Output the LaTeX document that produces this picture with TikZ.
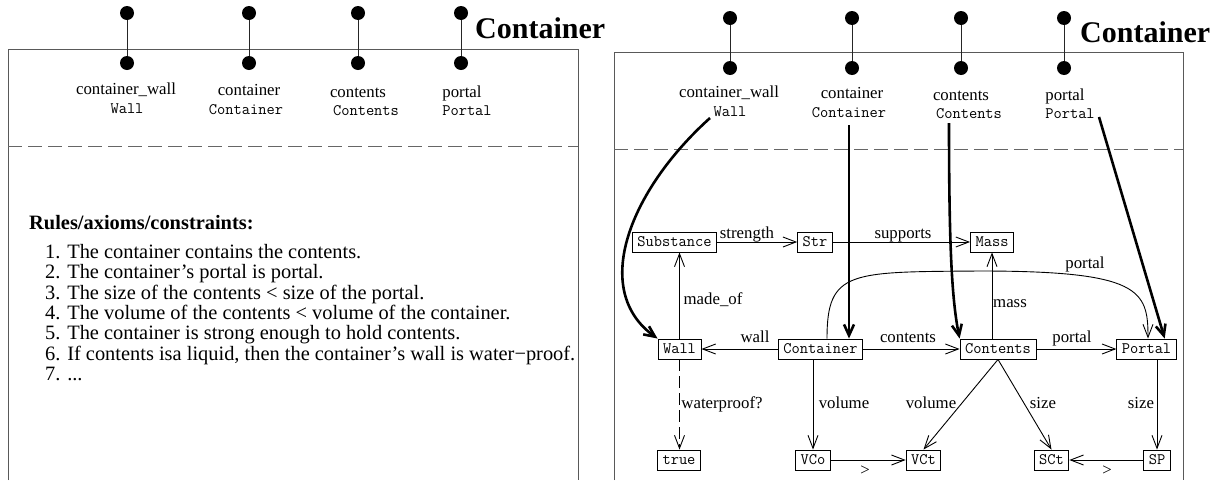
\documentclass[tikz,border=0pt]{standalone}
\usepackage{fontspec}
\setmainfont{Liberation Serif}
\usetikzlibrary{arrows.meta}
\tikzset{
  panel/.style={draw=black!65, line width=1pt},
  sepline/.style={draw=black!60, line width=1pt, dash pattern=on 14pt off 6pt},
  dotnode/.style={circle, fill=black, draw=none, minimum size=14pt, inner sep=0pt},
  dotline/.style={draw=black!85, line width=1pt},
  box/.style={draw, line width=0.9pt, font=\fontsize{16}{16}\selectfont\ttfamily,
              inner xsep=5pt, inner ysep=0pt, text height=11pt, text depth=2pt, minimum height=20pt},
  lab/.style={font=\fontsize{16.8}{17}\selectfont, inner sep=0pt, text height=11.4pt, text depth=0pt},
  mlab/.style={font=\fontsize{16}{16}\selectfont\ttfamily, inner sep=0pt, text height=9.8pt, text depth=0pt},
  edge/.style={draw, line width=0.9pt, -{Straight Barb[length=13pt,width=10pt]}},
  dedge/.style={edge, dash pattern=on 12pt off 5pt},
  bigarrow/.style={draw, line width=2.6pt, -{Straight Barb[length=11pt,width=10pt]}},
  ttl/.style={font=\fontsize{30}{30}\selectfont\bfseries, inner sep=0pt, anchor=base west},
  rulehead/.style={font=\fontsize{20.4}{20}\selectfont\bfseries, inner sep=0pt, anchor=base west},
  ruleitem/.style={font=\fontsize{20.4}{20}\selectfont, inner sep=0pt, anchor=base west}
}
\begin{document}
\begin{tikzpicture}[x=1pt,y=-1pt]
\useasboundingbox (0,0) rectangle (1215,480);

% ---------------- left panel ----------------
\draw[panel] (8,480) -- (8,49) -- (578,49) -- (578,480);
\draw[sepline] (8,146) -- (578,146);
\node[ttl] (ltitle) at (475,38) {Container};

\node[dotnode] (ld1t) at (127,13) {}; \node[dotnode] (ld1b) at (127,63) {};
\node[dotnode] (ld2t) at (249,13) {}; \node[dotnode] (ld2b) at (249,63) {};
\node[dotnode] (ld3t) at (358,13) {}; \node[dotnode] (ld3b) at (358,63) {};
\node[dotnode] (ld4t) at (461,13) {}; \node[dotnode] (ld4b) at (461,63) {};
\draw[dotline] (ld1t) -- (ld1b);
\draw[dotline] (ld2t) -- (ld2b);
\draw[dotline] (ld3t) -- (ld3b);
\draw[dotline] (ld4t) -- (ld4b);

\node[lab]  (lcw)  at (126,89)  {container\_wall};
\node[mlab] (lcwT) at (127,109) {Wall};
\node[lab]  (lc)   at (249,90)  {container};
\node[mlab] (lcT)  at (246,110) {Container};
\node[lab]  (lct)  at (358,92)  {contents};
\node[mlab] (lctT) at (366,111) {Contents};
\node[lab]  (lp)   at (462,92)  {portal};
\node[mlab] (lpT)  at (467,111) {Portal};

\node[rulehead] (rh) at (29,229.5) {Rules/axioms/constraints:};
\node[ruleitem] (r1) at (45,258.5) {1. The container contains the contents.};
\node[ruleitem] (r2) at (45,278.8) {2. The container’s portal is portal.};
\node[ruleitem] (r3) at (45,299.1) {3. The size of the contents < size of the portal.};
\node[ruleitem] (r4) at (45,319.4) {4. The volume of the contents < volume of the container.};
\node[ruleitem] (r5) at (45,339.7) {5. The container is strong enough to hold contents.};
\node[ruleitem] (r6) at (45,360.0) {6. If contents isa liquid, then the container’s wall is water−proof.};
\node[ruleitem] (r7) at (45,380.3) {7. ...};

% ---------------- right panel ----------------
\draw[panel] (614,480) -- (614,52) -- (1183,52) -- (1183,480);
\draw[sepline] (614,149) -- (1183,149);
\node[ttl] (rtitle) at (1080,42) {Container};

\node[dotnode] (rd1t) at (730,18) {}; \node[dotnode] (rd1b) at (730,68) {};
\node[dotnode] (rd2t) at (852,18) {}; \node[dotnode] (rd2b) at (852,68) {};
\node[dotnode] (rd3t) at (961,18) {}; \node[dotnode] (rd3b) at (961,68) {};
\node[dotnode] (rd4t) at (1064,18) {}; \node[dotnode] (rd4b) at (1064,68) {};
\draw[dotline] (rd1t) -- (rd1b);
\draw[dotline] (rd2t) -- (rd2b);
\draw[dotline] (rd3t) -- (rd3b);
\draw[dotline] (rd4t) -- (rd4b);

\node[lab]  (rcw)  at (729,92)  {container\_wall};
\node[mlab] (rcwT) at (730,112) {Wall};
\node[lab]  (rc)   at (852,93)  {container};
\node[mlab] (rcT)  at (849,113) {Container};
\node[lab]  (rct)  at (961,95)  {contents};
\node[mlab] (rctT) at (969,114) {Contents};
\node[lab]  (rp)   at (1065,95) {portal};
\node[mlab] (rpT)  at (1070,114) {Portal};

% graph nodes
\node[box] (Substance) at (674.5,242) {Substance};
\node[box] (Str)       at (815,242)   {Str};
\node[box] (Mass)      at (992,242)   {Mass};
\node[box] (Wall)      at (679.5,349) {Wall};
\node[box] (Container) at (820.5,349) {Container};
\node[box] (Contents)  at (998,349)   {Contents};
\node[box] (Portal)    at (1146.5,349) {Portal};
\node[box] (true)      at (679,460)   {true};
\node[box] (VCo)       at (813,460)   {VCo};
\node[box] (VCt)       at (923.5,460) {VCt};
\node[box] (SCt)       at (1051.5,460) {SCt};
\node[box] (SP)        at (1157,460)  {SP};

% thin edges
\draw[edge] (Substance) -- (Str);
\draw[edge] (Str) -- (Mass);
\draw[edge] (Container) -- (Wall);
\draw[edge] (Container) -- (Contents);
\draw[edge] (Contents) -- (Portal);
\draw[edge] (Wall.north) -- (Wall.north |- Substance.south);
\draw[edge] (Contents.north -| Mass.south) -- (Mass.south);
\draw[dedge] (Wall.south) -- (Wall.south |- true.north);
\draw[edge] (Container.south -| VCo.north) -- (VCo.north);
\draw[edge] (Contents.south) -- (VCt.north);
\draw[edge] (Contents.south) -- (SCt.north);
\draw[edge] (Portal.south -| SP.north) -- (SP.north);
\draw[edge] (VCo) -- (VCt);
\draw[edge] (SP) -- (SCt);
\draw[edge] ([xshift=6.5pt]Container.north) .. controls (827,270) and (850,272) .. (980,271)
            .. controls (1140,271) and (1148,290) .. ([xshift=1.5pt]Portal.north);

% thick mapping arrows
\coordinate (s1) at (710,118);
\coordinate (s2) at (849,125);
\coordinate (s3) at (949,123);
\coordinate (s4) at (1099,117);
\draw[bigarrow] (s1) .. controls (630,190) and (590,290) .. (Wall.north west);
\draw[bigarrow] (s2) -- (s2 |- Container.north);
\draw[bigarrow] (s3) .. controls (949,250) and (952,300) .. (Contents.north west);
\draw[bigarrow] (s4) -- ([xshift=-12pt]Portal.north east);

% edge labels
\node[lab] (lstrength) at (747,233) {strength};
\node[lab] (lsupports) at (903,233) {supports};
\node[lab] (lportalc)  at (1085,263) {portal};
\node[lab] (lmadeof)   at (713,299) {made\_of};
\node[lab] (lmass)     at (1010,302) {mass};
\node[lab] (lwall)     at (755,337) {wall};
\node[lab] (lcontents) at (908,337) {contents};
\node[lab] (lportal)   at (1072,337) {portal};
\node[lab] (lwater)    at (722,403) {waterproof?};
\node[lab] (lvol1)     at (844,403) {volume};
\node[lab] (lvol2)     at (931,403) {volume};
\node[lab] (lsize1)    at (1043,403) {size};
\node[lab] (lsize2)    at (1141,403) {size};
\node[lab] (lgt1)      at (865,470) {>};
\node[lab] (lgt2)      at (1107,470) {>};
\end{tikzpicture}
\end{document}
